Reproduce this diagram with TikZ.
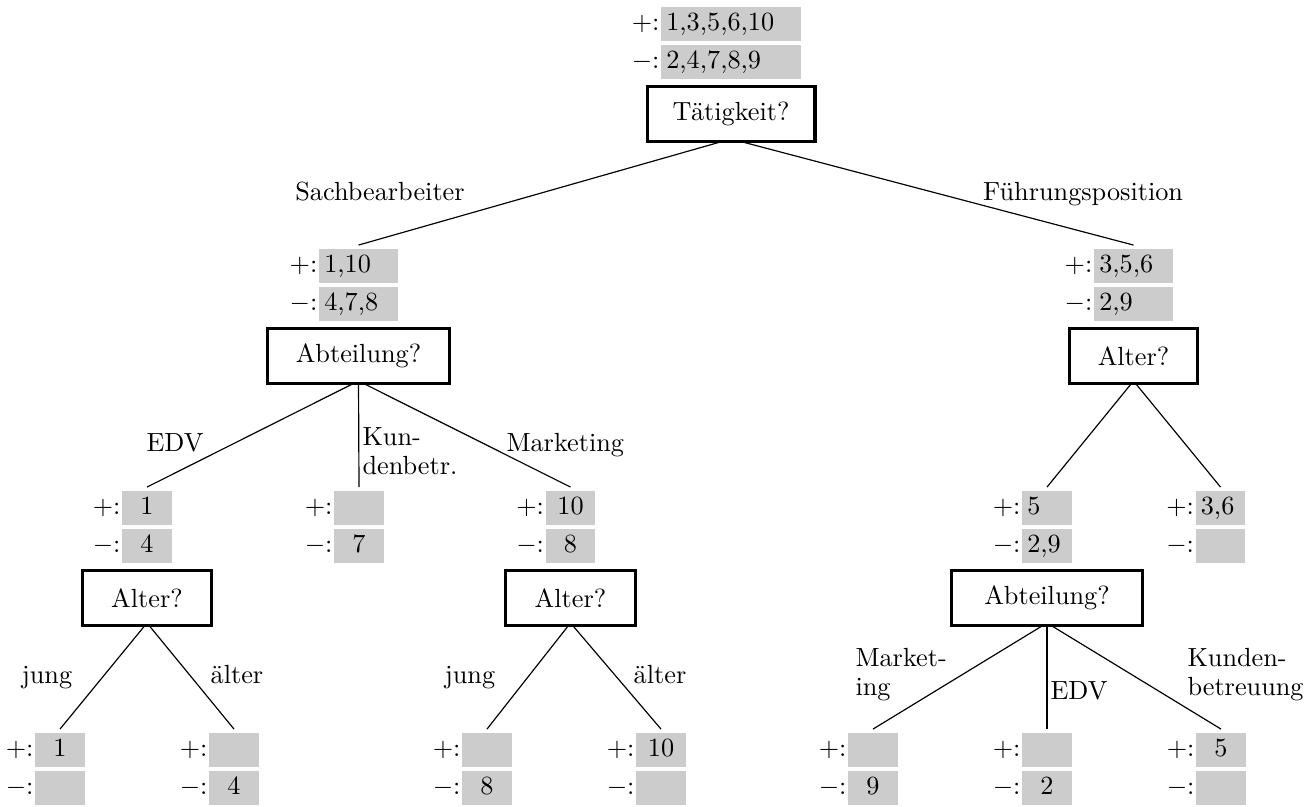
\documentclass[tikz,border=0pt]{standalone}
\usepackage{fontspec}
\pgfdeclarelayer{background}
\pgfsetlayers{background,main}

% one example set: a "+" row and a "-" row, each a grey field with its sign in front
% #1 name, #2 centre x, #3 top y, #4 text width, #5 alignment, #6 positives, #7 negatives
\newcommand\exset[7]{%
  \node[setrow, text width=#4, align=#5] (#1p) at (#2,#3) {\strut #6};
  \node[setrow, text width=#4, align=#5] (#1m) at (#2,#3+38) {\strut #7};
  \node[signlbl] (#1pl) at (#1p.base west) {$+$:};
  \node[signlbl] (#1ml) at (#1m.base west) {$-$:};
}

\tikzset{
  setrow/.style={fill=black!20, anchor=north, minimum height=12.95pt,
    inner xsep=2pt, inner ysep=0pt, outer sep=0pt},
  signlbl/.style={anchor=base east, inner xsep=0.4pt, inner ysep=0pt},
  question/.style={draw, line width=1.15pt, fill=white, anchor=north,
    minimum height=20.9pt, inner sep=0pt},
  branch/.style={line width=0.45pt},
  brlbl/.style={inner sep=0pt},
  brlbltwo/.style={inner sep=0pt, anchor=north west, align=left,
    font=\fontsize{10pt}{11pt}\selectfont},
}

\begin{document}
\begin{tikzpicture}[x=0.381pt, y=-0.381pt]
\useasboundingbox (0,0) rectangle (1310,806);

% ---- level 0
\exset{root}{731}{7}{49.3pt}{left}{1,3,5,6,10}{2,4,7,8,9}
\node[question, minimum width=64pt] (tat) at (731,85) {Tätigkeit?};

% ---- level 1
\exset{sb}{358.5}{249}{26.1pt}{left}{1,10}{4,7,8}
\node[question, minimum width=69.3pt] (abtA) at (358.5,327) {Abteilung?};

\exset{fp}{1133.5}{249}{26.1pt}{left}{3,5,6}{2,9}
\node[question, minimum width=48.8pt] (altA) at (1133.5,327) {Alter?};

% ---- level 2
\exset{edv}{147}{491}{15pt}{center}{1}{4}
\node[question, minimum width=49.5pt] (altB) at (147,569) {Alter?};

\exset{kb}{359}{491}{15pt}{center}{}{7}

\exset{mk}{570.5}{491}{15pt}{center}{10}{8}
\node[question, minimum width=49.5pt] (altC) at (570.5,569) {Alter?};

\exset{yg}{1047}{491}{15pt}{left}{5}{2,9}
\node[question, minimum width=72.8pt] (abtB) at (1047,569) {Abteilung?};

\exset{ol}{1220.5}{491}{15pt}{left}{3,6}{}

% ---- level 3 (leaves)
\exset{edvj}{60}{733}{15pt}{center}{1}{}
\exset{edva}{234}{733}{15pt}{center}{}{4}
\exset{mkj}{487}{733}{15pt}{center}{}{8}
\exset{mka}{661}{733}{15pt}{center}{10}{}
\exset{ygm}{873}{733}{15pt}{center}{}{9}
\exset{yge}{1047}{733}{15pt}{center}{}{2}
\exset{ygk}{1221}{733}{15pt}{center}{5}{}

% ---- branches, drawn beneath the question boxes
\begin{pgfonlayer}{background}
  \draw[branch] ([yshift=1.5pt]tat.south) -- ([yshift=1.5pt]sbp.north);
  \draw[branch] ([yshift=1.5pt]tat.south) -- ([yshift=1.5pt]fpp.north);
  \draw[branch] ([yshift=1.5pt]abtA.south) -- ([yshift=1.5pt]edvp.north);
  \draw[branch] ([yshift=1.5pt]abtA.south) -- ([yshift=1.5pt]kbp.north);
  \draw[branch] ([yshift=1.5pt]abtA.south) -- ([yshift=1.5pt]mkp.north);
  \draw[branch] ([yshift=1.5pt]altA.south) -- ([yshift=1.5pt]ygp.north);
  \draw[branch] ([yshift=1.5pt]altA.south) -- ([yshift=1.5pt]olp.north);
  \draw[branch] ([yshift=1.5pt]altB.south) -- ([yshift=1.5pt]edvjp.north);
  \draw[branch] ([yshift=1.5pt]altB.south) -- ([yshift=1.5pt]edvap.north);
  \draw[branch] ([yshift=1.5pt]altC.south) -- ([yshift=1.5pt]mkjp.north);
  \draw[branch] ([yshift=1.5pt]altC.south) -- ([yshift=1.5pt]mkap.north);
  \draw[branch] ([yshift=1.5pt]abtB.south) -- ([yshift=1.5pt]ygmp.north);
  \draw[branch] ([yshift=1.5pt]abtB.south) -- ([yshift=1.5pt]ygep.north);
  \draw[branch] ([yshift=1.5pt]abtB.south) -- ([yshift=1.5pt]ygkp.north);
\end{pgfonlayer}

% ---- branch labels
\node[brlbl, anchor=base] (lsach) at (380,200) {Sachbearbeiter};
\node[brlbl, anchor=base] (lfuehr) at (1083,200) {Führungsposition};
\node[brlbl, anchor=base] (ledvA) at (175,451) {EDV};
\node[brlbltwo] (lkund) at (362,427) {Kun-\\denbetr.};
\node[brlbl, anchor=base west] (lmarkA) at (506,451) {Marketing};
\node[brlbl, anchor=base] (ljungA) at (47,683) {jung};
\node[brlbl, anchor=base] (laltA) at (237,683) {älter};
\node[brlbl, anchor=base] (ljungB) at (470,683) {jung};
\node[brlbl, anchor=base] (laltB) at (660,683) {älter};
\node[brlbltwo] (lmarkB) at (855,648) {Market-\\ing};
\node[brlbl, anchor=base west] (ledvB) at (1050,699) {EDV};
\node[brlbltwo] (lkundB) at (1187,648) {Kunden-\\betreuung};
\end{tikzpicture}
\end{document}
